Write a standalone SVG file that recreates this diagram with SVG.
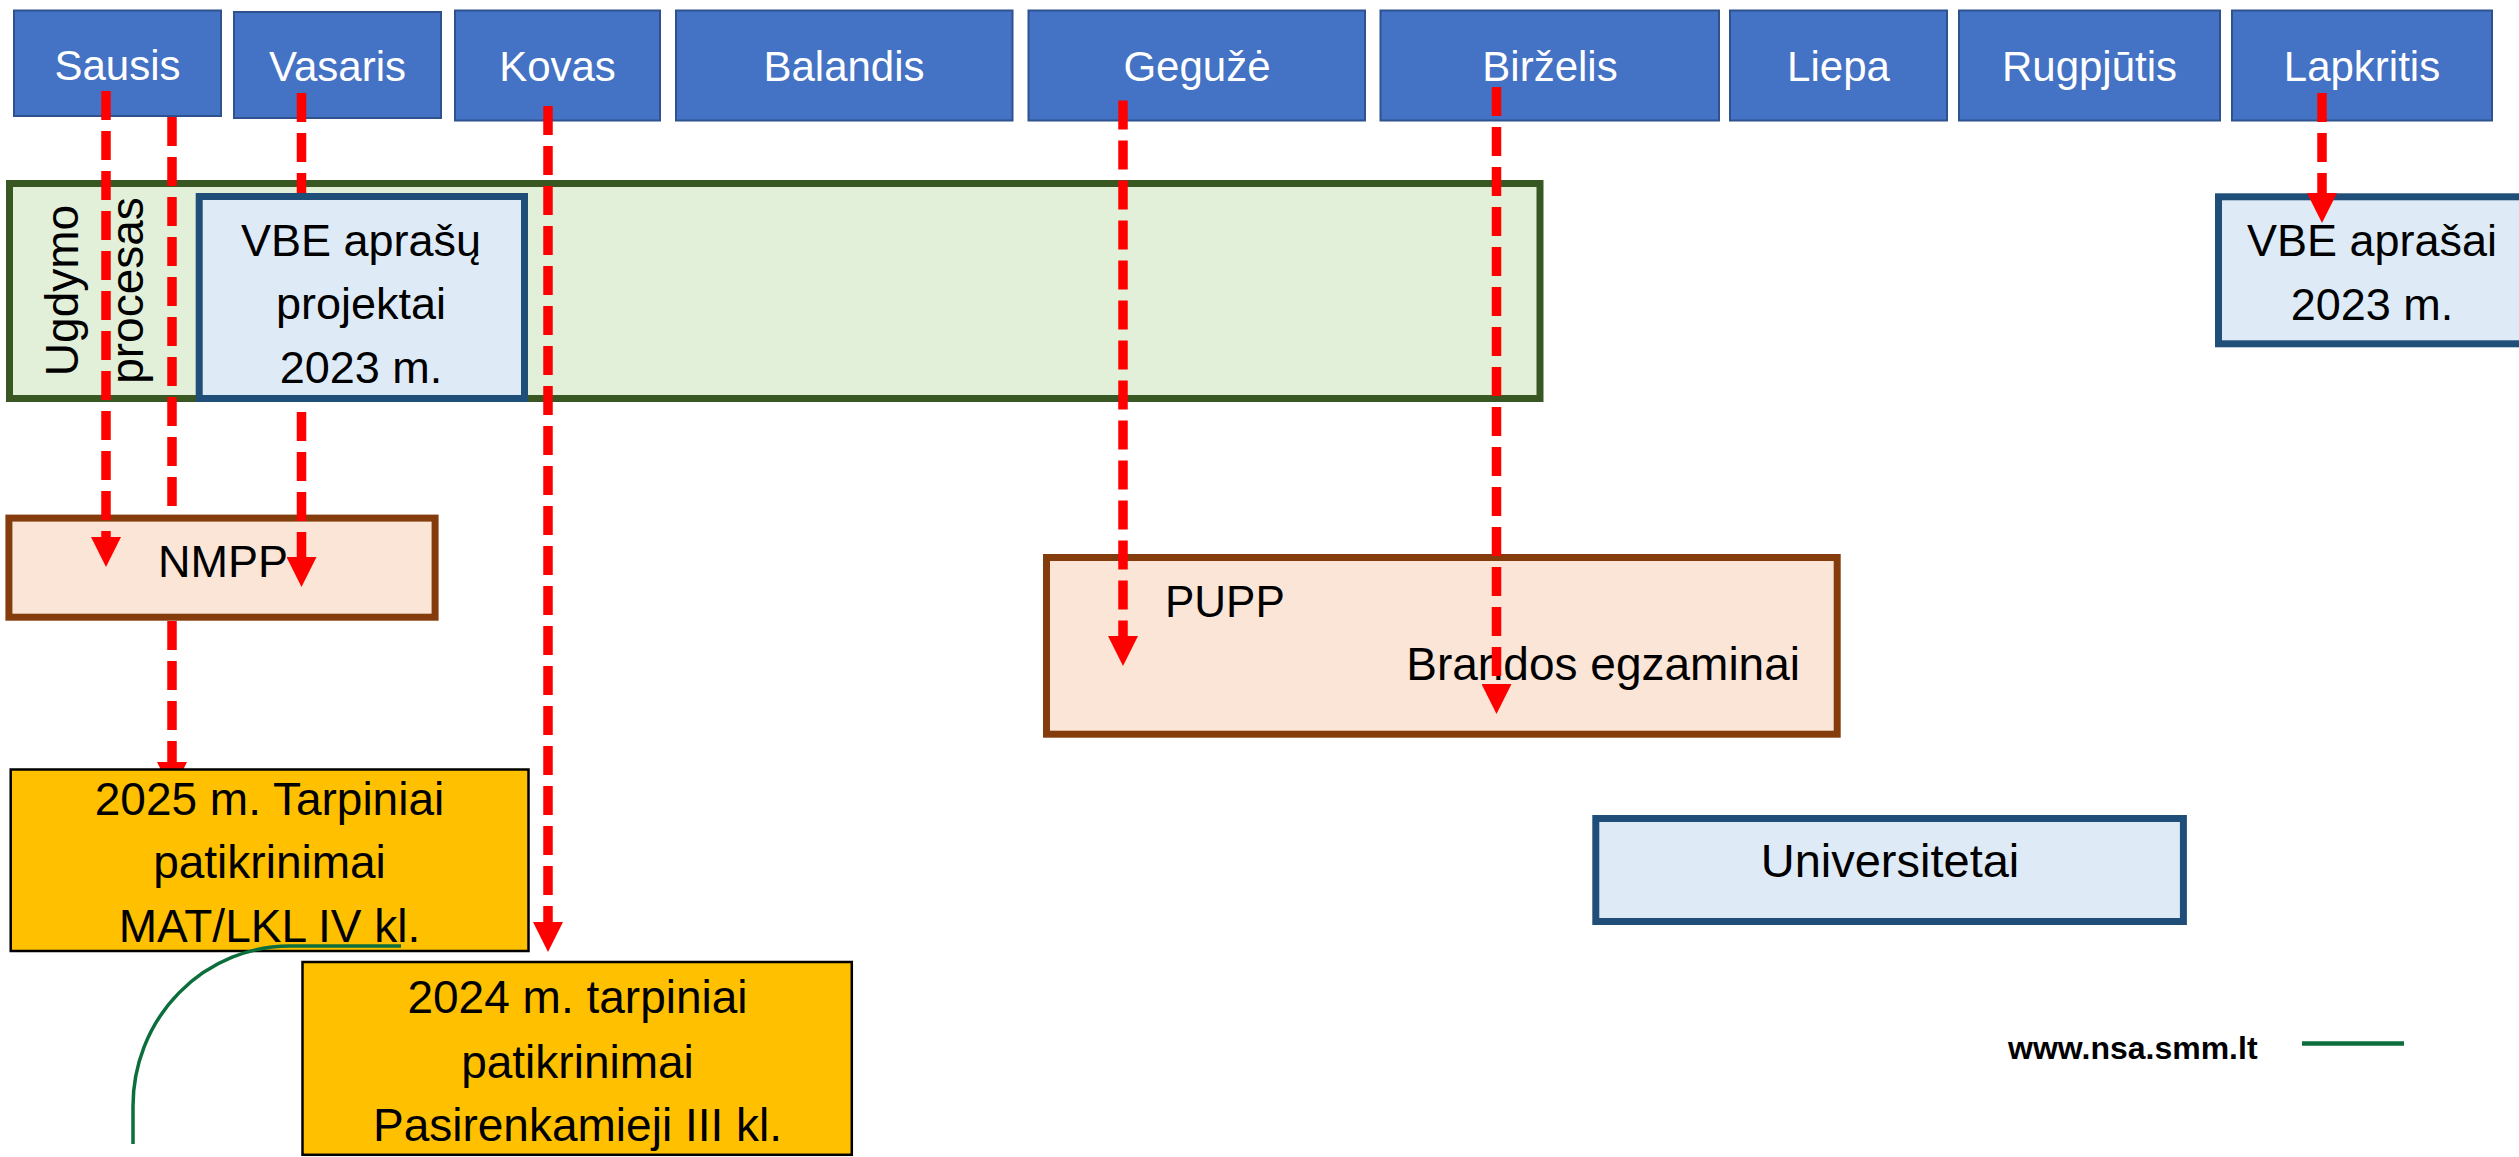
<svg xmlns="http://www.w3.org/2000/svg" width="2519" height="1157" viewBox="0 0 2519 1157">
<style>
.month rect{fill:#4472C4;stroke:#2F528F;stroke-width:2}
.month text{fill:#fff;font-family:"Liberation Sans",Arial,sans-serif;font-size:42px;text-anchor:middle}
.t{font-family:"Liberation Sans",Arial,sans-serif;fill:#000}
.c{text-anchor:middle}
.blue{fill:#DEEBF7;stroke:#1F4E79;stroke-width:7}
.peach{fill:#FBE5D6;stroke:#843C0C;stroke-width:7}
.gold{fill:#FFC000;stroke:#000;stroke-width:2.5}
.arr{fill:none;stroke:#FF0000;stroke-width:9.5;stroke-dasharray:29 11}
.gl{fill:none;stroke:#0B6E3C}
</style>
<defs>
<marker id="ah" markerUnits="userSpaceOnUse" viewBox="0 0 30 30" refX="0" refY="15" markerWidth="30" markerHeight="30" orient="auto">
<path d="M0,0 L30,15 L0,30 Z" fill="#FF0000"/>
</marker>
</defs>

<g id="m-sausis" class="month"><rect x="14" y="10.5" width="207" height="105.5"/><text x="117.5" y="80">Sausis</text></g>
<g id="m-vasaris" class="month"><rect x="234" y="12" width="207" height="106"/><text x="337.5" y="81">Vasaris</text></g>
<g id="m-kovas" class="month"><rect x="455" y="10.5" width="205" height="110"/><text x="557.5" y="81">Kovas</text></g>
<g id="m-balandis" class="month"><rect x="676" y="10.5" width="336.5" height="110"/><text x="844" y="81">Balandis</text></g>
<g id="m-geguze" class="month"><rect x="1028.5" y="10.5" width="336.5" height="110"/><text x="1197" y="81">Gegužė</text></g>
<g id="m-birzelis" class="month"><rect x="1380.5" y="10.5" width="338.5" height="110"/><text x="1550" y="81">Birželis</text></g>
<g id="m-liepa" class="month"><rect x="1730" y="10.5" width="217" height="110"/><text x="1838.5" y="81">Liepa</text></g>
<g id="m-rugpjutis" class="month"><rect x="1959" y="10.5" width="261" height="110"/><text x="2089.5" y="81">Rugpjūtis</text></g>
<g id="m-lapkritis" class="month"><rect x="2232" y="10.5" width="260" height="110"/><text x="2362" y="81">Lapkritis</text></g>

<g id="ugdymo">
<rect x="9.5" y="183.5" width="1530.5" height="215" fill="#E2F0D9" stroke="#385723" stroke-width="7"/>
<text class="t c" font-size="46" transform="translate(78,290.5) rotate(-90)">Ugdymo</text>
<text class="t c" font-size="46" transform="translate(143,290.5) rotate(-90)">procesas</text>
</g>

<g id="vbe-projektai">
<rect class="blue" x="199.2" y="196.5" width="325.3" height="202"/>
<text class="t c" font-size="45" x="361" y="255.7">VBE aprašų</text>
<text class="t c" font-size="45" x="361" y="319">projektai</text>
<text class="t c" font-size="45" x="361" y="383">2023 m.</text>
</g>

<g id="nmpp">
<rect class="peach" x="8.9" y="518.1" width="426.2" height="99.1"/>
<text class="t c" font-size="45" x="223" y="577">NMPP</text>
</g>

<g id="pupp">
<rect class="peach" x="1046.5" y="557.5" width="790.7" height="176.7"/>
<text class="t" font-size="44" x="1165" y="617">PUPP</text>
<text class="t" font-size="46" x="1800" y="680" text-anchor="end">Brandos egzaminai</text>
</g>

<g id="universitetai">
<rect class="blue" x="1595.8" y="818.5" width="587.6" height="103"/>
<text class="t c" font-size="47" x="1890" y="877">Universitetai</text>
</g>

<g id="vbe-aprasai">
<rect class="blue" x="2218.5" y="196.8" width="320" height="147"/>
<text class="t c" font-size="45" x="2372" y="256">VBE aprašai</text>
<text class="t c" font-size="45" x="2372" y="320">2023 m.</text>
</g>

<g id="connectors">
<path class="arr" d="M106,91 V537" marker-end="url(#ah)"/>
<path class="arr" d="M172,117 V514"/>
<path class="arr" d="M172,621 V762" marker-end="url(#ah)"/>
<path class="arr" d="M301.5,93 V193"/>
<path class="arr" d="M301.5,402 V557" stroke-dashoffset="30" marker-end="url(#ah)"/>
<path class="arr" d="M548,106 V922" marker-end="url(#ah)"/>
<path class="arr" d="M1123,100.5 V636" marker-end="url(#ah)"/>
<path class="arr" d="M1496.5,87 V684" marker-end="url(#ah)"/>
<path class="arr" d="M2322,93 V193" marker-end="url(#ah)"/>
</g>

<g id="tarpiniai-2025">
<rect class="gold" x="10.7" y="769.5" width="517.8" height="181.5"/>
<text class="t c" font-size="46" x="269.5" y="814.5">2025 m. Tarpiniai</text>
<text class="t c" font-size="46" x="269.5" y="877.5">patikrinimai</text>
<text class="t c" font-size="46" x="269.5" y="942">MAT/LKL IV kl.</text>
</g>

<g id="tarpiniai-2024">
<rect class="gold" x="302.5" y="962" width="549.3" height="192.8"/>
<text class="t c" font-size="46" x="577.5" y="1013">2024 m. tarpiniai</text>
<text class="t c" font-size="46" x="577.5" y="1078">patikrinimai</text>
<text class="t c" font-size="46" x="577.5" y="1140.5">Pasirenkamieji III kl.</text>
</g>

<g id="decor">
<path class="gl" stroke-width="3.5" d="M401,946 H290 A157,160 0 0 0 133,1106 V1144"/>
<text class="t" font-size="32" font-weight="bold" x="2008" y="1059">www.nsa.smm.lt</text>
<path class="gl" stroke-width="4.5" d="M2302,1043.6 H2404"/>
</g>
</svg>
